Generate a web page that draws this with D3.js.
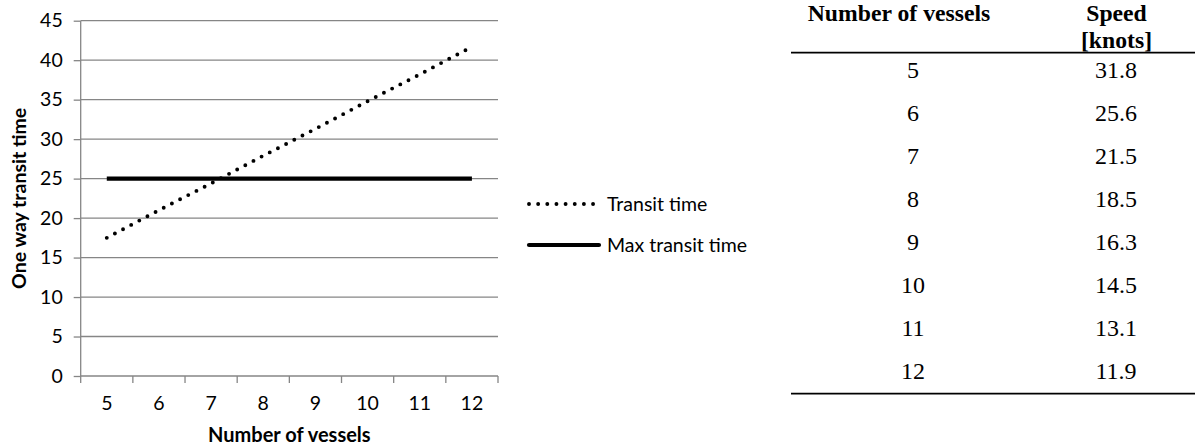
<!DOCTYPE html>
<html>
<head>
<meta charset="utf-8">
<script src="https://cdn.jsdelivr.net/npm/d3@7/dist/d3.min.js"></script>
<style>
  html, body { margin: 0; padding: 0; background: #fff; }
  svg { display: block; }
</style>
</head>
<body>
<svg id="chart" width="1195" height="446"></svg>
<script>
// ---- data ----
const vessels = ["5", "6", "7", "8", "9", "10", "11", "12"];
const transitTime = [17.5, 21.0, 24.4, 27.9, 31.3, 34.8, 38.2, 41.7];
const maxTransitTime = [25, 25, 25, 25, 25, 25, 25, 25];
const yTicks = [0, 5, 10, 15, 20, 25, 30, 35, 40, 45];
const seriesNames = ["Transit time", "Max transit time"];
const tableHeaders = [["Number of vessels"], ["Speed", "[knots]"]];
const tableVessels = ["5", "6", "7", "8", "9", "10", "11", "12"];
const tableSpeed = ["31.8", "25.6", "21.5", "18.5", "16.3", "14.5", "13.1", "11.9"];

// ---- layout ----
const svg = d3.select("#chart");
const sansFont = "Lato, 'Open Sans', sans-serif";
const serifFont = "'Liberation Serif', 'DejaVu Serif', serif";
const axisColor = "#868686";

const x = d3.scaleBand().domain(vessels).range([80.7, 498]);
const y = d3.scaleLinear().domain([0, 45]).range([376, 20.7]);

const plot = svg.append("g");

// gridlines
plot.selectAll("line.grid")
  .data(yTicks.filter(d => d > 0))
  .join("line")
  .attr("class", "grid")
  .attr("x1", x.range()[0]).attr("x2", x.range()[1])
  .attr("y1", d => y(d)).attr("y2", d => y(d))
  .attr("stroke", axisColor).attr("stroke-width", 1.3);

// y axis
const yAxis = d3.axisLeft(y).tickValues(yTicks).tickSize(7).tickPadding(11);
const yg = plot.append("g").attr("transform", `translate(${x.range()[0]},0)`).call(yAxis);
yg.select(".domain").attr("stroke", axisColor).attr("stroke-width", 1.3).attr("d", `M0,${y(0)}V${y(45)}`);
yg.selectAll(".tick line").attr("stroke", axisColor).attr("stroke-width", 1.3);
yg.selectAll(".tick text").attr("font-family", sansFont).attr("font-size", 19.5).attr("fill", "#000");

// x axis: ticks at category boundaries
const xg = plot.append("g").attr("transform", `translate(0,${y(0)})`);
xg.append("line")
  .attr("x1", x.range()[0]).attr("x2", x.range()[1])
  .attr("y1", 0).attr("y2", 0)
  .attr("stroke", axisColor).attr("stroke-width", 1.3);
const bounds = vessels.map(v => x(v)).concat([x.range()[1]]);
xg.selectAll("line.xt").data(bounds).join("line")
  .attr("class", "xt")
  .attr("x1", d => d).attr("x2", d => d)
  .attr("y1", 0).attr("y2", 7)
  .attr("stroke", axisColor).attr("stroke-width", 1.3);
xg.selectAll("text.xl").data(vessels).join("text")
  .attr("class", "xl")
  .attr("x", d => x(d) + x.bandwidth() / 2)
  .attr("y", 34)
  .attr("text-anchor", "middle")
  .attr("font-family", sansFont).attr("font-size", 19.5)
  .text(d => d);

// axis titles
svg.append("text")
  .attr("x", (x.range()[0] + x.range()[1]) / 2).attr("y", 442)
  .attr("text-anchor", "middle")
  .attr("font-family", sansFont).attr("font-size", 20).attr("font-weight", "bold")
  .text("Number of vessels");
svg.append("text")
  .attr("transform", `translate(26,${(y(0) + y(45)) / 2}) rotate(-90)`)
  .attr("text-anchor", "middle")
  .attr("font-family", sansFont).attr("font-size", 19.5).attr("font-weight", "bold")
  .text("One way transit time");

// series
const cx = d => x(d) + x.bandwidth() / 2;
const line = d3.line().x(d => cx(d.v)).y(d => y(d.t));

plot.append("path")
  .datum(vessels.map((v, i) => ({ v, t: maxTransitTime[i] })))
  .attr("d", line)
  .attr("fill", "none").attr("stroke", "#000").attr("stroke-width", 4.2);

plot.append("path")
  .datum(vessels.map((v, i) => ({ v, t: transitTime[i] })))
  .attr("d", line)
  .attr("fill", "none").attr("stroke", "#000").attr("stroke-width", 3.9)
  .attr("stroke-linecap", "round").attr("stroke-dasharray", "0 9.2");

// legend
const legend = svg.append("g");
const legendY = [204, 245];
legend.append("line").attr("x1", 529).attr("x2", 598).attr("y1", legendY[0]).attr("y2", legendY[0])
  .attr("stroke", "#000").attr("stroke-width", 3.9).attr("stroke-linecap", "round")
  .attr("stroke-dasharray", "0 9.15");
legend.append("line").attr("x1", 529).attr("x2", 599).attr("y1", legendY[1]).attr("y2", legendY[1])
  .attr("stroke", "#000").attr("stroke-width", 4.2).attr("stroke-linecap", "round");
legend.selectAll("text").data(seriesNames).join("text")
  .attr("x", 607).attr("y", (d, i) => legendY[i] + 6.5)
  .attr("font-family", sansFont).attr("font-size", 19.5)
  .text(d => d);

// ---- table ----
const tbl = svg.append("g");
const colX = [913, 1116];
const headX = [899, 1116.5];
tbl.append("text").attr("x", headX[0]).attr("y", 20.5)
  .attr("text-anchor", "middle").attr("font-family", serifFont)
  .attr("font-size", 23.7).attr("font-weight", "bold").text(tableHeaders[0][0]);
tbl.selectAll("text.h2").data(tableHeaders[1]).join("text")
  .attr("class", "h2")
  .attr("x", headX[1]).attr("y", (d, i) => 20.5 + i * 27.8)
  .attr("text-anchor", "middle").attr("font-family", serifFont)
  .attr("font-size", 23.7).attr("font-weight", "bold").text(d => d);

tbl.append("line").attr("x1", 791).attr("x2", 1195).attr("y1", 52.7).attr("y2", 52.7)
  .attr("stroke", "#000").attr("stroke-width", 1.8);
tbl.append("line").attr("x1", 791).attr("x2", 1195).attr("y1", 393.7).attr("y2", 393.7)
  .attr("stroke", "#000").attr("stroke-width", 1.8);

const rowY = d3.scalePoint().domain(tableVessels).range([70, 371]);
tbl.selectAll("text.c1").data(tableVessels).join("text")
  .attr("class", "c1")
  .attr("x", colX[0]).attr("y", d => rowY(d) + 8.3)
  .attr("text-anchor", "middle").attr("font-family", serifFont).attr("font-size", 24)
  .text(d => d);
tbl.selectAll("text.c2").data(tableSpeed).join("text")
  .attr("class", "c2")
  .attr("x", colX[1]).attr("y", (d, i) => rowY(tableVessels[i]) + 8.3)
  .attr("text-anchor", "middle").attr("font-family", serifFont).attr("font-size", 24)
  .text(d => d);
</script>
</body>
</html>
